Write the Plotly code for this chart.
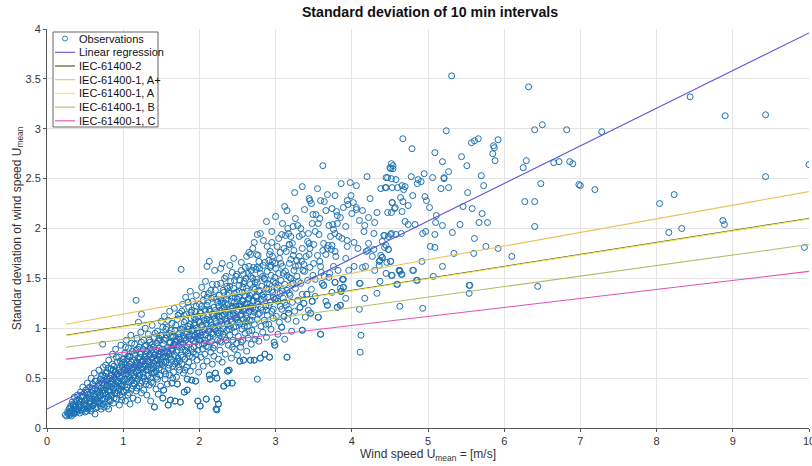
import plotly.graph_objects as go

# ---------------- data ----------------
observations = [
    # x 0.2 - 0.5
    (0.24,0.13),(0.26,0.12),(0.27,0.16),(0.28,0.14),(0.29,0.19),(0.30,0.13),(0.31,0.22),(0.31,0.17),
    (0.32,0.15),(0.33,0.26),(0.34,0.19),(0.35,0.14),(0.35,0.23),(0.36,0.31),(0.37,0.18),(0.38,0.27),
    (0.38,0.21),(0.39,0.16),(0.40,0.33),(0.41,0.24),(0.41,0.19),(0.42,0.29),(0.43,0.15),(0.44,0.36),
    (0.44,0.22),(0.45,0.27),(0.46,0.18),(0.47,0.31),(0.47,0.41),(0.48,0.24),(0.49,0.20),(0.49,0.35),
    (0.50,0.28),(0.50,0.16),(0.35,0.16),
    # x 0.5 - 0.75
    (0.51,0.38),(0.52,0.22),(0.52,0.30),(0.53,0.45),(0.54,0.19),(0.54,0.34),(0.55,0.27),(0.56,0.41),
    (0.56,0.24),(0.57,0.33),(0.58,0.50),(0.58,0.17),(0.59,0.29),(0.60,0.37),(0.60,0.44),(0.61,0.23),
    (0.62,0.31),(0.62,0.55),(0.63,0.14),(0.63,0.39),(0.64,0.27),(0.65,0.47),(0.65,0.34),(0.66,0.21),
    (0.67,0.42),(0.67,0.30),(0.68,0.58),(0.68,0.36),(0.69,0.25),(0.70,0.49),(0.70,0.32),(0.71,0.40),
    (0.71,0.19),(0.72,0.45),(0.72,0.28),(0.73,0.53),(0.73,0.35),(0.74,0.61),(0.74,0.24),(0.75,0.43),
    (0.75,0.38),(0.73,0.84),
    # x 0.75 - 1.0
    (0.76,0.29),(0.76,0.52),(0.77,0.40),(0.77,0.63),(0.78,0.34),(0.78,0.47),(0.79,0.22),(0.79,0.56),
    (0.80,0.43),(0.80,0.31),(0.81,0.19),(0.81,0.68),(0.82,0.50),(0.82,0.37),(0.83,0.45),(0.83,0.27),
    (0.84,0.59),(0.84,0.41),(0.85,0.53),(0.85,0.33),(0.86,0.74),(0.86,0.47),(0.87,0.39),(0.87,0.25),
    (0.88,0.62),(0.88,0.51),(0.89,0.44),(0.89,0.35),(0.90,0.57),(0.90,0.79),(0.91,0.29),(0.91,0.48),
    (0.92,0.66),(0.92,0.41),(0.93,0.54),(0.93,0.37),(0.94,0.71),(0.94,0.45),(0.95,0.23),(0.95,0.60),
    (0.96,0.50),(0.96,0.33),(0.97,0.83),(0.97,0.56),(0.98,0.42),(0.98,0.64),(0.99,0.31),(0.99,0.52),
    (1.00,0.47),(1.00,0.69),
    # x 1.0 - 1.25
    (1.01,0.58),(1.01,0.36),(1.02,0.75),(1.02,0.49),(1.03,0.27),(1.03,0.63),(1.04,0.54),(1.04,0.88),
    (1.05,0.41),(1.05,0.69),(1.06,0.57),(1.06,0.33),(1.07,0.80),(1.07,0.46),(1.08,0.62),(1.08,0.51),
    (1.09,0.71),(1.09,0.24),(1.10,0.55),(1.10,0.93),(1.11,0.39),(1.11,0.66),(1.12,0.48),(1.12,0.77),
    (1.13,0.59),(1.13,0.30),(1.14,0.68),(1.14,0.52),(1.15,0.84),(1.15,0.44),(1.16,0.61),(1.16,0.73),
    (1.17,0.37),(1.17,0.56),(1.18,0.90),(1.18,0.65),(1.19,0.49),(1.19,0.28),(1.20,0.70),(1.20,0.58),
    (1.21,0.81),(1.21,0.42),(1.22,0.63),(1.22,0.53),(1.23,0.96),(1.23,0.74),(1.24,0.35),(1.24,0.60),
    (1.25,0.67),(1.25,0.47),(1.17,1.28),(1.24,1.14),(1.20,1.06),
    # x 1.25 - 1.5
    (1.26,0.79),(1.26,0.55),(1.27,0.38),(1.27,0.88),(1.28,0.64),(1.28,0.71),(1.29,0.47),(1.29,1.00),
    (1.30,0.58),(1.30,0.83),(1.31,0.33),(1.31,0.69),(1.32,0.76),(1.32,0.52),(1.33,0.94),(1.33,0.61),
    (1.34,0.43),(1.34,0.73),(1.35,0.86),(1.35,0.66),(1.36,0.50),(1.36,0.27),(1.37,0.78),(1.37,0.59),
    (1.38,1.03),(1.38,0.70),(1.39,0.45),(1.39,0.62),(1.40,0.81),(1.40,0.55),(1.41,0.21),(1.41,0.91),
    (1.42,0.67),(1.42,0.74),(1.43,0.39),(1.43,0.57),(1.44,0.85),(1.44,0.63),(1.45,0.97),(1.45,0.49),
    (1.46,0.72),(1.46,0.34),(1.47,0.80),(1.47,0.60),(1.48,0.53),(1.48,0.88),(1.49,0.68),(1.49,0.42),
    (1.50,0.76),(1.50,1.07),
    # x 1.5 - 1.75
    (1.51,0.64),(1.51,0.93),(1.52,0.30),(1.52,0.71),(1.53,0.38),(1.53,0.84),(1.54,0.57),(1.54,1.12),
    (1.55,0.77),(1.55,0.49),(1.56,0.90),(1.56,0.66),(1.57,1.01),(1.57,0.72),(1.58,0.44),(1.58,0.81),
    (1.59,0.23),(1.59,0.60),(1.60,0.95),(1.60,0.74),(1.61,0.53),(1.61,1.17),(1.62,0.28),(1.62,0.86),
    (1.63,0.69),(1.63,0.79),(1.64,0.45),(1.64,1.05),(1.65,0.62),(1.65,0.91),(1.66,0.83),(1.66,0.56),
    (1.67,0.73),(1.67,1.20),(1.68,0.27),(1.68,0.98),(1.69,0.66),(1.69,0.87),(1.70,0.51),(1.70,0.76),
    (1.71,0.44),(1.71,1.09),(1.72,0.94),(1.72,0.70),(1.73,0.61),(1.73,0.82),(1.74,1.15),(1.74,0.58),
    (1.75,0.26),(1.75,0.89),(1.76,1.59),
    # x 1.75 - 2.0
    (1.76,0.73),(1.77,0.99),(1.77,0.64),(1.78,1.24),(1.78,0.85),(1.79,0.55),(1.79,0.92),(1.80,0.36),
    (1.80,1.06),(1.81,0.78),(1.81,0.69),(1.82,1.31),(1.82,0.88),(1.83,0.61),(1.83,1.14),(1.84,0.38),
    (1.84,0.49),(1.84,0.96),(1.85,0.75),(1.85,1.02),(1.86,0.66),(1.86,1.21),(1.87,0.84),(1.87,0.93),
    (1.88,0.57),(1.88,1.37),(1.89,0.79),(1.89,1.10),(1.90,0.48),(1.90,0.98),(1.91,0.71),(1.91,1.27),
    (1.92,0.87),(1.92,0.62),(1.93,1.05),(1.93,0.81),(1.94,1.17),(1.94,0.93),(1.95,0.47),(1.95,0.74),
    (1.96,1.00),(1.96,1.33),(1.97,0.68),(1.97,0.89),(1.98,0.27),(1.98,1.12),(1.99,0.83),(1.99,0.56),
    (2.00,1.24),(2.00,0.95),
    # x 2.0 - 2.25
    (2.01,0.22),(2.01,0.88),(2.02,1.15),(2.02,0.71),(2.03,1.02),(2.03,1.41),(2.04,0.79),(2.04,0.96),
    (2.05,0.62),(2.05,1.28),(2.06,1.08),(2.06,0.85),(2.07,1.19),(2.07,0.74),(2.08,0.93),(2.08,1.47),
    (2.09,0.29),(2.09,1.05),(2.10,0.67),(2.10,1.23),(2.11,0.90),(2.11,1.12),(2.12,0.81),(2.12,1.35),
    (2.13,0.53),(2.13,0.99),(2.14,0.49),(2.14,1.17),(2.15,0.76),(2.15,1.06),(2.16,1.30),(2.16,0.87),
    (2.17,0.64),(2.17,1.44),(2.18,1.01),(2.18,0.94),(2.19,1.21),(2.19,0.72),(2.20,1.10),(2.20,0.83),
    (2.21,0.55),(2.21,1.38),(2.22,0.19),(2.22,0.97),(2.23,0.18),(2.23,0.29),(2.23,0.50),(2.23,1.14),
    (2.24,0.88),(2.24,1.26),(2.25,0.24),(2.25,1.03),(2.25,0.69),
    # x 2.25 - 2.5
    (2.26,1.33),(2.26,0.95),(2.27,1.18),(2.27,0.78),(2.28,1.45),(2.28,1.07),(2.29,0.86),(2.29,1.25),
    (2.30,1.12),(2.30,0.66),(2.31,1.38),(2.31,1.00),(2.32,0.42),(2.32,1.21),(2.33,0.91),(2.33,1.50),
    (2.34,1.09),(2.34,0.74),(2.35,1.29),(2.35,1.16),(2.36,0.98),(2.36,1.42),(2.37,0.45),(2.37,0.57),
    (2.37,1.04),(2.38,1.24),(2.38,0.83),(2.39,0.58),(2.39,1.35),(2.40,1.13),(2.40,0.93),(2.41,1.47),
    (2.41,1.20),(2.42,0.70),(2.42,1.06),(2.43,0.45),(2.43,1.31),(2.44,0.88),(2.44,1.17),(2.45,1.40),
    (2.45,1.01),(2.46,0.79),(2.46,1.26),(2.47,1.10),(2.47,0.96),(2.48,1.52),(2.48,1.22),(2.49,0.85),
    (2.49,1.36),(2.50,1.08),(2.50,0.73),
    # x 2.5 - 2.75
    (2.51,1.19),(2.51,0.92),(2.52,1.43),(2.52,1.31),(2.53,0.67),(2.53,1.05),(2.54,1.24),(2.54,0.81),
    (2.55,1.58),(2.55,1.14),(2.56,0.99),(2.56,1.36),(2.57,1.27),(2.57,0.88),(2.58,0.68),(2.58,1.09),
    (2.59,1.47),(2.59,1.20),(2.60,0.95),(2.60,1.33),(2.61,1.13),(2.62,0.77),(2.62,1.40),(2.63,1.25),
    (2.63,1.02),(2.64,1.55),(2.64,0.90),(2.65,1.17),(2.65,1.30),(2.66,1.08),(2.67,0.68),(2.67,1.44),
    (2.68,1.22),(2.68,0.84),(2.69,1.35),(2.69,0.98),(2.70,1.12),(2.70,1.50),(2.71,1.28),(2.72,0.68),
    (2.72,1.04),(2.73,1.39),(2.73,1.19),(2.74,0.93),(2.74,1.59),(2.75,1.31),
    # x 2.75 - 3.0
    (2.76,1.09),(2.76,1.46),(2.77,1.24),(2.78,0.87),(2.78,1.37),(2.79,1.15),(2.80,0.70),(2.80,1.55),
    (2.81,1.02),(2.81,1.29),(2.82,1.42),(2.83,0.96),(2.83,1.18),(2.84,1.63),(2.84,1.34),(2.85,1.08),
    (2.86,0.74),(2.86,1.49),(2.87,1.22),(2.88,0.91),(2.88,1.40),(2.89,1.57),(2.89,1.13),(2.90,1.31),
    (2.91,1.04),(2.91,1.68),(2.92,0.71),(2.92,1.44),(2.93,1.26),(2.94,0.99),(2.94,1.53),(2.95,1.17),
    (2.96,1.36),(2.96,1.72),(2.97,1.10),(2.97,1.47),(2.98,0.86),(2.99,0.83),(2.99,1.29),(3.00,1.60),
    # x 3.0 - 3.5
    (3.01,1.12),(3.02,1.41),(3.03,0.94),(3.03,1.27),(3.04,1.55),(3.05,1.06),(3.06,1.35),(3.07,1.48),
    (3.08,1.01),(3.08,1.19),(3.09,1.62),(3.10,1.30),(3.11,1.12),(3.12,0.89),(3.12,1.44),(3.13,1.57),
    (3.14,1.23),(3.15,0.71),(3.15,1.38),(3.16,1.09),(3.17,1.15),(3.17,1.19),(3.18,1.51),(3.19,1.33),
    (3.20,1.69),(3.21,0.97),(3.22,1.26),(3.23,1.45),(3.24,1.58),(3.25,1.17),
    (3.26,1.40),(3.27,1.07),(3.28,1.52),(3.29,1.28),(3.30,1.63),(3.32,1.21),(3.33,1.45),(3.35,0.98),
    (3.35,1.34),(3.37,1.25),(3.38,1.57),(3.39,1.11),(3.41,1.34),(3.42,1.48),(3.43,1.18),(3.45,1.61),
    (3.46,1.15),(3.47,1.39),(3.48,1.27),(3.49,1.53),
    (3.10,1.55),(3.20,1.50),(3.30,1.47),(3.36,1.58),(3.40,1.72),(3.26,1.62),
    # x 3.5 - 4.0 mid band
    (3.52,1.32),(3.56,1.11),(3.59,0.94),(3.61,1.45),(3.63,1.43),(3.66,1.27),(3.68,1.23),(3.71,1.55),
    (3.74,1.36),(3.78,1.46),(3.81,1.21),(3.85,1.23),(3.85,1.40),(3.86,1.37),(3.88,1.49),(3.89,1.41),
    (3.92,1.30),(3.96,1.58),(3.52,1.49),(3.60,1.56),(3.70,1.51),(3.82,1.58),
    # upper part of the cloud, x 2.0 - 3.3
    (2.10,1.62),(2.13,1.67),(2.28,1.60),(2.35,1.52),(2.43,1.56),(2.49,1.54),(2.58,1.54),(2.60,1.61),
    (2.65,1.62),(2.67,1.74),(2.71,1.61),(2.77,1.73),(2.76,1.61),(2.92,1.74),(2.99,1.65),(3.07,1.65),
    (3.06,1.76),(3.14,1.77),(3.18,1.84),(3.24,1.78),(3.18,1.65),(3.31,1.72),(3.34,1.67),(3.37,1.64),
    (3.44,1.74),(3.58,1.67),(3.55,1.73),(3.50,1.65),(3.59,1.62),(3.66,1.74),(3.64,1.52),(3.76,1.62),
    (3.89,1.49),(2.65,1.76),(2.75,1.74),(2.78,1.67),(2.86,1.66),(2.96,1.67),(3.23,1.73),(3.28,1.68),
    (2.45,1.70),(2.55,1.66),(2.62,1.72),(2.70,1.80),(2.84,1.88),(2.95,1.86),(2.40,1.63),(2.20,1.58),
    (2.30,1.65),(2.89,1.82),(2.93,1.77),(3.02,1.82),(3.11,1.80),(3.22,1.85),(3.08,1.94),(3.13,1.93),
    (3.17,1.95),(2.76,1.94),
    # outliers below the cloud
    (2.76,0.49),(2.43,0.45),(2.37,0.45),(2.32,0.42),(2.23,0.29),(2.25,0.24),(2.22,0.19),(1.98,0.27),
    (2.09,0.29),(2.01,0.22),(2.14,0.49),(2.13,0.53),(2.21,0.55),(2.23,0.50),(2.39,0.58),(2.37,0.57),
    (1.95,0.47),(1.90,0.48),(1.84,0.49),(1.80,0.36),(1.84,0.38),(1.75,0.26),(1.68,0.27),(1.62,0.28),
    (1.59,0.23),(1.52,0.30),(1.41,0.21),(1.53,0.38),(1.64,0.45),(1.71,0.44),
    (2.53,0.67),(2.58,0.68),(2.67,0.68),(2.72,0.68),(2.80,0.70),(2.92,0.71),(2.86,0.74),(2.99,0.83),
    (3.15,0.71),(3.35,0.98),(3.59,0.94),(4.12,0.93),(4.11,0.76),(4.10,1.19),(4.17,1.30),(3.56,1.11),
    (3.46,1.15),(3.85,1.23),(3.81,1.21),(3.68,1.23),(4.33,1.35),(4.63,1.22),(4.93,1.20),
    (3.41,1.34),(3.48,1.27),(3.32,1.21),(3.17,1.15),(3.11,1.12),(3.08,1.01),(3.37,1.25),
    # x 3.0 - 4.6, upper scatter
    (3.62,2.63),(3.86,2.45),(4.06,2.43),(3.25,2.36),(3.68,2.34),(3.45,2.28),(3.47,2.25),(3.59,2.28),
    (3.64,2.27),(3.99,2.33),(3.94,2.28),(3.95,2.24),(3.15,2.18),(3.74,2.20),(3.80,2.17),(3.81,2.13),
    (3.85,2.11),(3.89,2.21),(4.06,2.21),(4.06,2.19),(4.14,2.18),(4.00,2.15),(3.49,2.14),(3.53,2.14),
    (3.48,2.05),(3.56,2.05),(3.16,2.00),(3.23,2.02),(3.29,2.03),(3.70,2.03),(3.75,2.04),(3.81,2.05),
    (3.76,1.99),(3.78,1.95),(4.17,2.03),(4.30,2.06),(4.22,2.11),(4.16,1.97),(4.29,1.95),
    (3.31,1.92),(3.35,1.94),(3.43,1.95),(3.57,1.94),(3.18,1.84),(3.42,1.87),(3.44,1.85),(3.50,1.84),
    (3.45,1.80),(3.63,1.85),(3.69,1.83),(3.68,1.80),(3.73,1.79),(3.74,1.83),(3.83,1.92),(3.87,1.90),
    (3.94,1.88),(4.03,1.86),(3.94,1.82),(3.78,1.77),(3.79,1.72),(4.22,1.85),(4.21,1.78),(4.19,1.77),
    (4.29,1.79),(4.40,1.87),(4.43,1.93),(4.48,1.92),(4.52,1.95),(4.43,1.81),(4.48,1.79),(4.38,1.73),
    (4.36,1.67),(4.46,1.66),(4.51,1.67),(4.62,1.58),(4.52,1.53),(4.45,2.51),(4.52,2.50),(4.58,2.49),
    (4.45,2.41),(4.60,2.41),(4.52,2.65),(4.54,2.60),(4.51,2.60),(4.53,2.26),(4.47,2.16),(4.52,2.16),
    (4.57,2.21),(3.88,1.49),(3.89,1.41),(3.86,1.37),(3.78,1.46),(3.63,1.43),(4.03,1.62),(4.18,1.62),
    (4.14,1.61),(4.37,1.68),(4.36,1.63),(4.27,1.72),(4.40,1.71),(4.37,1.47),(4.10,1.45),(4.11,1.45),
    (4.59,1.44),(4.63,1.58),(4.65,1.54),(4.80,1.58),(4.85,1.48),(5.07,1.52),(5.19,1.62),(4.92,1.67),
    (5.34,1.75),(5.60,1.75),(5.54,1.43),(5.54,1.35),(5.55,1.43),
    # x 4.4 - 5.4
    (4.47,2.51),(4.44,2.41),(4.53,2.41),(4.66,2.43),(4.70,2.42),(4.68,2.39),(4.78,2.52),(4.87,2.49),
    (4.86,2.45),(4.91,2.47),(4.95,2.55),(4.54,2.63),(4.50,2.61),(4.80,2.33),(4.74,2.23),(4.64,2.31),
    (4.67,2.27),(4.53,2.26),(4.56,2.20),(4.66,2.17),(4.70,2.07),(4.74,2.04),(4.83,2.04),(4.65,1.95),
    (4.58,1.94),(4.51,1.94),(4.42,1.93),(4.45,1.83),(4.48,1.79),(4.40,1.71),(4.51,1.67),(4.63,1.57),
    (4.81,1.58),(4.66,1.54),(4.53,1.53),(4.86,1.48),(4.60,1.44),
    (4.67,2.90),(5.24,2.98),(4.79,2.80),(5.09,2.76),(5.21,2.51),(5.21,2.50),(5.17,2.40),(5.27,2.41),
    (5.06,2.51),(5.02,2.21),(4.96,2.32),(4.98,2.28),(5.11,2.13),(5.10,2.06),(5.19,2.03),(4.97,1.97),
    (4.93,1.95),(5.09,1.94),(5.03,1.82),(5.09,1.81),(5.32,1.96),(5.42,2.04),(5.27,2.57),(5.19,2.67),
    # x 5.3 - 7.3
    (5.31,3.53),(6.32,3.42),(5.57,2.86),(5.61,2.88),(5.66,2.90),(5.92,2.89),(5.86,2.83),(5.87,2.81),
    (5.85,2.75),(5.88,2.68),(6.40,2.99),(6.50,3.04),(6.82,2.99),(7.28,2.97),(6.29,2.68),(6.25,2.61),
    (6.65,2.66),(6.72,2.67),(6.86,2.67),(6.90,2.65),(6.48,2.45),(6.98,2.44),(7.00,2.43),(7.19,2.39),
    (6.27,2.27),(6.40,2.27),(6.40,2.02),(6.10,1.72),(6.44,1.42),(5.92,1.80),(5.76,1.82),(5.61,1.90),
    (5.67,2.06),(5.78,2.06),(5.71,2.15),(5.58,2.20),(5.46,2.22),(5.52,2.36),(5.73,2.43),(5.70,2.53),
    (5.51,2.63),(5.44,2.72),
    # x > 8
    (8.44,3.32),(8.90,3.13),(9.43,3.14),(10.0,2.64),(9.43,2.52),(8.23,2.34),(8.04,2.25),(8.87,2.08),
    (8.89,2.04),(8.16,1.96),(8.33,2.00),(9.94,1.81),
    # additional points in the dense core
    (0.29,0.15),(0.30,0.20),(0.32,0.12),(0.33,0.18),(0.34,0.24),(0.36,0.15),(0.37,0.22),(0.39,0.28),
    (0.40,0.18),(0.42,0.21),(0.43,0.26),(0.45,0.17),(0.46,0.32),(0.48,0.19),(0.49,0.27),(0.51,0.23),
    (0.52,0.17),(0.53,0.36),(0.55,0.21),(0.56,0.30),(0.57,0.19),(0.58,0.26),(0.59,0.40),(0.60,0.22),
    (0.61,0.33),(0.62,0.25),(0.63,0.47),(0.64,0.20),(0.65,0.29),(0.66,0.38),
    (0.67,0.26),(0.68,0.45),(0.69,0.33),(0.70,0.22),(0.71,0.52),(0.72,0.37),(0.73,0.29),(0.74,0.47),
    (0.75,0.21),(0.76,0.35),(0.77,0.55),(0.78,0.26),(0.79,0.42),(0.80,0.60),(0.81,0.38),(0.82,0.28),
    (0.83,0.52),(0.84,0.33),(0.85,0.44),(0.86,0.64),(0.87,0.49),(0.88,0.30),(0.89,0.56),(0.90,0.40),
    (0.91,0.71),(0.92,0.35),(0.93,0.47),(0.94,0.58),(0.95,0.39),(0.96,0.67),(0.97,0.44),(0.98,0.28),
    (0.99,0.61),(1.00,0.37),(0.91,0.54),(0.87,0.58),(0.83,0.36),(0.79,0.49),(0.95,0.52),(0.99,0.43),
    (1.01,0.66),(1.02,0.43),(1.03,0.81),(1.04,0.38),(1.05,0.60),(1.06,0.72),(1.07,0.53),(1.08,0.35),
    (1.09,0.64),(1.10,0.47),(1.11,0.85),(1.12,0.58),(1.13,0.42),(1.14,0.61),(1.15,0.75),(1.16,0.50),
    (1.17,0.66),(1.18,0.40),(1.19,0.79),(1.20,0.63),(1.21,0.55),(1.22,0.71),(1.23,0.45),(1.24,0.86),
    (1.25,0.59),(1.26,0.68),(1.27,0.51),(1.28,0.82),(1.29,0.62),(1.30,0.44),(1.31,0.77),(1.32,0.67),
    (1.33,0.53),(1.34,0.88),(1.35,0.74),(1.36,0.63),(1.37,0.46),(1.38,0.84),(1.39,0.71),(1.40,0.65),
    (1.41,0.56),(1.42,0.95),(1.43,0.78),(1.44,0.51),(1.45,0.69),(1.46,0.87),(1.47,0.74),(1.48,0.64),
    (1.49,0.93),(1.50,0.58),
    (1.51,0.79),(1.52,1.01),(1.53,0.66),(1.54,0.88),(1.55,0.72),(1.56,0.54),(1.57,0.93),(1.58,0.77),
    (1.59,1.08),(1.60,0.63),(1.61,0.85),(1.62,0.71),(1.63,0.98),(1.64,0.80),(1.65,0.50),(1.66,0.92),
    (1.67,0.84),(1.68,0.64),(1.69,1.03),(1.70,0.89),(1.71,0.78),(1.72,1.13),(1.73,0.91),(1.74,0.67),
    (1.75,0.99),(1.76,0.84),(1.77,1.17),(1.78,0.71),(1.79,1.01),(1.80,0.90),(1.81,0.58),(1.82,1.08),
    (1.83,0.94),(1.84,0.81),(1.85,1.26),(1.86,0.99),(1.87,0.72),(1.88,1.04),(1.89,0.89),(1.90,1.18),
    (1.91,0.97),(1.92,0.76),(1.93,1.11),(1.94,1.03),(1.95,0.86),(1.96,1.22),(1.97,0.95),(1.98,0.78),
    (1.99,1.07),(2.00,0.88),
    (2.01,1.06),(2.02,0.93),(2.03,1.22),(2.04,0.84),(2.05,1.12),(2.06,1.34),(2.07,0.99),(2.08,1.17),
    (2.09,0.82),(2.10,1.09),(2.11,1.27),(2.12,0.97),(2.13,1.19),(2.14,0.91),(2.15,1.38),(2.16,1.03),
    (2.17,1.14),(2.18,0.80),(2.19,1.31),(2.20,1.00),(2.21,1.18),(2.22,1.07),(2.23,1.44),(2.24,0.95),
    (2.25,1.22),(2.26,1.11),(2.27,0.87),(2.28,1.29),(2.29,1.04),(2.30,1.19),(2.31,0.94),(2.32,1.36),
    (2.33,1.14),(2.34,1.25),(2.35,0.88),(2.36,1.07),(2.37,1.33),(2.38,1.16),(2.39,0.99),(2.40,1.42),
    (2.41,1.09),(2.42,1.27),(2.43,0.81),(2.44,1.20),(2.45,1.13),(2.46,1.48),(2.47,1.31),(2.48,1.02),
    (2.49,1.18),(2.50,1.29),
    (2.51,1.06),(2.52,1.22),(2.53,1.48),(2.54,1.13),(2.55,0.86),(2.56,1.28),(2.57,1.41),(2.58,1.17),
    (2.59,1.02),(2.60,1.24),(2.61,1.50),(2.62,1.10),(2.63,1.37),(2.64,1.21),(2.65,0.97),(2.66,1.33),
    (2.67,1.19),(2.68,1.58),(2.69,1.08),(2.70,1.27),(2.71,1.41),(2.72,1.16),(2.73,0.89),(2.74,1.32),
    (2.75,1.49),(2.77,1.14),(2.79,1.38),(2.81,1.21),(2.83,1.52),(2.85,1.31),(2.87,1.04),(2.89,1.45),
    (2.91,1.23),(2.93,1.61),(2.95,1.38),(2.97,1.19),(2.99,1.51),(3.01,1.30),(3.04,1.43),(3.06,1.22),
    (3.09,1.37),(3.12,1.26),(3.15,1.53),(3.18,1.35),(3.21,1.44),
    # more of the dense band, x 1.0 - 3.0
    (1.02,0.58),(1.05,0.49),(1.08,0.72),(1.11,0.60),(1.14,0.45),(1.17,0.78),(1.20,0.52),(1.23,0.66),
    (1.26,0.61),(1.29,0.74),(1.32,0.59),(1.35,0.80),(1.38,0.55),(1.41,0.73),(1.44,0.68),(1.47,0.90),
    (1.50,0.66),(1.53,0.75),(1.56,0.99),(1.59,0.70),(1.62,0.92),(1.65,0.77),(1.68,0.86),(1.71,0.67),
    (1.74,0.95),(1.77,0.81),(1.80,1.13),(1.83,0.77),(1.86,0.91),(1.89,1.16),(1.92,0.99),(1.95,1.09),
    (1.98,0.92),(2.01,1.16),(2.04,1.03),(2.07,0.88),(2.10,1.31),(2.13,1.08),(2.16,0.95),(2.19,1.13),
    (2.22,1.29),(2.25,1.12),(2.28,0.97),(2.31,1.27),(2.34,1.18),(2.37,1.40),(2.40,1.02),(2.43,1.22),
    (2.46,1.35),(2.49,1.11),(2.52,1.37),(2.55,1.21),(2.58,1.45),(2.61,1.06),(2.64,1.29),(2.67,1.52),
    (2.70,1.20),(2.73,1.46),(2.76,1.27),(2.79,1.60),(2.82,1.33),(2.85,1.50),(2.88,1.18),(2.91,1.39),
    (2.94,1.63),(2.97,1.31),(3.00,1.45),
    # more of the upper scatter, x 2.7 - 4.5
    (2.72,1.86),(2.80,1.95),(2.88,2.07),(2.95,1.97),(3.00,2.12),(3.04,1.90),(3.09,2.05),(3.12,2.22),
    (3.20,1.92),(3.26,2.10),(3.33,2.00),(3.38,2.19),(3.44,2.30),(3.52,1.97),(3.58,2.10),(3.66,2.18),
    (3.72,1.92),(3.92,2.02),(4.02,2.26),(4.10,2.08),(4.24,2.30),(4.33,2.16),(4.38,2.40),(3.35,2.42),
    (3.55,2.40),(3.78,2.33),(3.98,2.46),(4.20,2.52),(3.05,1.70),(3.35,1.80),(3.62,1.78),(3.92,1.70),
    (4.08,1.80),(4.30,1.58),(4.45,1.55),
]
obs_x = [p[0] for p in observations]
obs_y = [p[1] for p in observations]

reg_x = [0.0, 10.0]
reg_y = [0.19, 3.96]

iec_x = [0.25, 10.0]
iec2_y = [0.93, 2.10]
iec_a_plus_y = [1.04, 2.37]
iec_a_y = [0.925, 2.095]
iec_b_y = [0.81, 1.84]
iec_c_y = [0.69, 1.57]

legend_labels = ["Observations", "Linear regression", "IEC-61400-2",
                 "IEC-61400-1, A+", "IEC-61400-1, A", "IEC-61400-1, B", "IEC-61400-1, C"]
obs_color = "#1a70b2"
line_colors = ["#5f55d6", "#4f4f10", "#e8c25a", "#ecec55", "#b3bd68", "#e052b4"]

x_ticks = [0, 1, 2, 3, 4, 5, 6, 7, 8, 9, 10]
y_ticks = [0, 0.5, 1, 1.5, 2, 2.5, 3, 3.5, 4]

# ---------------- figure ----------------
W, H = 812, 466
ML, MR, MT, MB = 47, 3, 29, 38
PW, PH = W - ML - MR, H - MT - MB

fig = go.Figure()
fig.add_trace(go.Scatter(x=obs_x, y=obs_y, mode="markers", name=legend_labels[0],
                         marker=dict(symbol="circle-open", size=6, color=obs_color,
                                     line=dict(width=1.0, color=obs_color)),
                         showlegend=False))
line_series = [(reg_x, reg_y), (iec_x, iec2_y), (iec_x, iec_a_plus_y),
               (iec_x, iec_a_y), (iec_x, iec_b_y), (iec_x, iec_c_y)]
for (lx, ly), name, col in zip(line_series, legend_labels[1:], line_colors):
    fig.add_trace(go.Scatter(x=lx, y=ly, mode="lines", name=name,
                             line=dict(color=col, width=1.1), showlegend=False))

# custom compact legend (MATLAB style)
def px_x(p):
    return (p - ML) / PW

def px_y(p):
    return (H - MB - p) / PH

shapes = [dict(type="rect", xref="paper", yref="paper",
               x0=px_x(53), x1=px_x(158), y0=px_y(127), y1=px_y(32),
               line=dict(color="#404040", width=0.8), fillcolor="white", layer="above")]
annotations = []
row_y = [38.5, 52.3, 66.0, 79.7, 93.4, 107.1, 120.8]
for i, (lab, ry) in enumerate(zip(legend_labels, row_y)):
    if i == 0:
        shapes.append(dict(type="circle", xref="paper", yref="paper",
                           x0=px_x(62.5), x1=px_x(67.5), y0=px_y(ry + 2.5), y1=px_y(ry - 2.5),
                           line=dict(color=obs_color, width=0.9), layer="above"))
    else:
        shapes.append(dict(type="line", xref="paper", yref="paper",
                           x0=px_x(55), x1=px_x(75), y0=px_y(ry), y1=px_y(ry),
                           line=dict(color=line_colors[i - 1], width=1.1), layer="above"))
    annotations.append(dict(xref="paper", yref="paper", x=px_x(76.5), y=px_y(ry),
                            text=lab, showarrow=False, xanchor="left", yanchor="middle",
                            font=dict(size=11, color="#111")))

fig.update_layout(
    width=W, height=H,
    margin=dict(l=ML, r=MR, t=MT, b=MB),
    paper_bgcolor="white", plot_bgcolor="white",
    font=dict(family="Liberation Sans, Arial, sans-serif", color="#333"),
    title=dict(text="<b>Standard deviation of 10 min intervals</b>", x=(430 / W),
               xanchor="center", y=1 - 12 / H, yanchor="middle",
               font=dict(size=14.2, color="#111")),
    showlegend=False,
    shapes=shapes, annotations=annotations,
    xaxis=dict(range=[0, 10], tickvals=x_ticks, showgrid=True, gridcolor="#e4e4e4", gridwidth=1,
               zeroline=False, showline=True, linecolor="#555", linewidth=1,
               ticks="outside", ticklen=3, tickcolor="#555", ticklabeloverflow="allow",
               tickfont=dict(size=11, color="#333"), automargin=False,
               title=dict(text="Wind speed U<sub>mean</sub> = [m/s]", standoff=3,
                          font=dict(size=12, color="#333"))),
    yaxis=dict(range=[0, 4], tickvals=y_ticks, showgrid=True, gridcolor="#e4e4e4", gridwidth=1,
               zeroline=False, showline=True, linecolor="#555", linewidth=1,
               ticks="outside", ticklen=3, tickcolor="#555",
               tickfont=dict(size=11, color="#333"), automargin=False,
               title=dict(text="Standar deviation of wind speed U<sub>mean</sub>", standoff=0,
                          font=dict(size=12, color="#333"))),
)

fig.write_html("out.html", config={"displayModeBar": False},
               post_script="document.body.style.margin='0';document.body.style.overflow='hidden';")
